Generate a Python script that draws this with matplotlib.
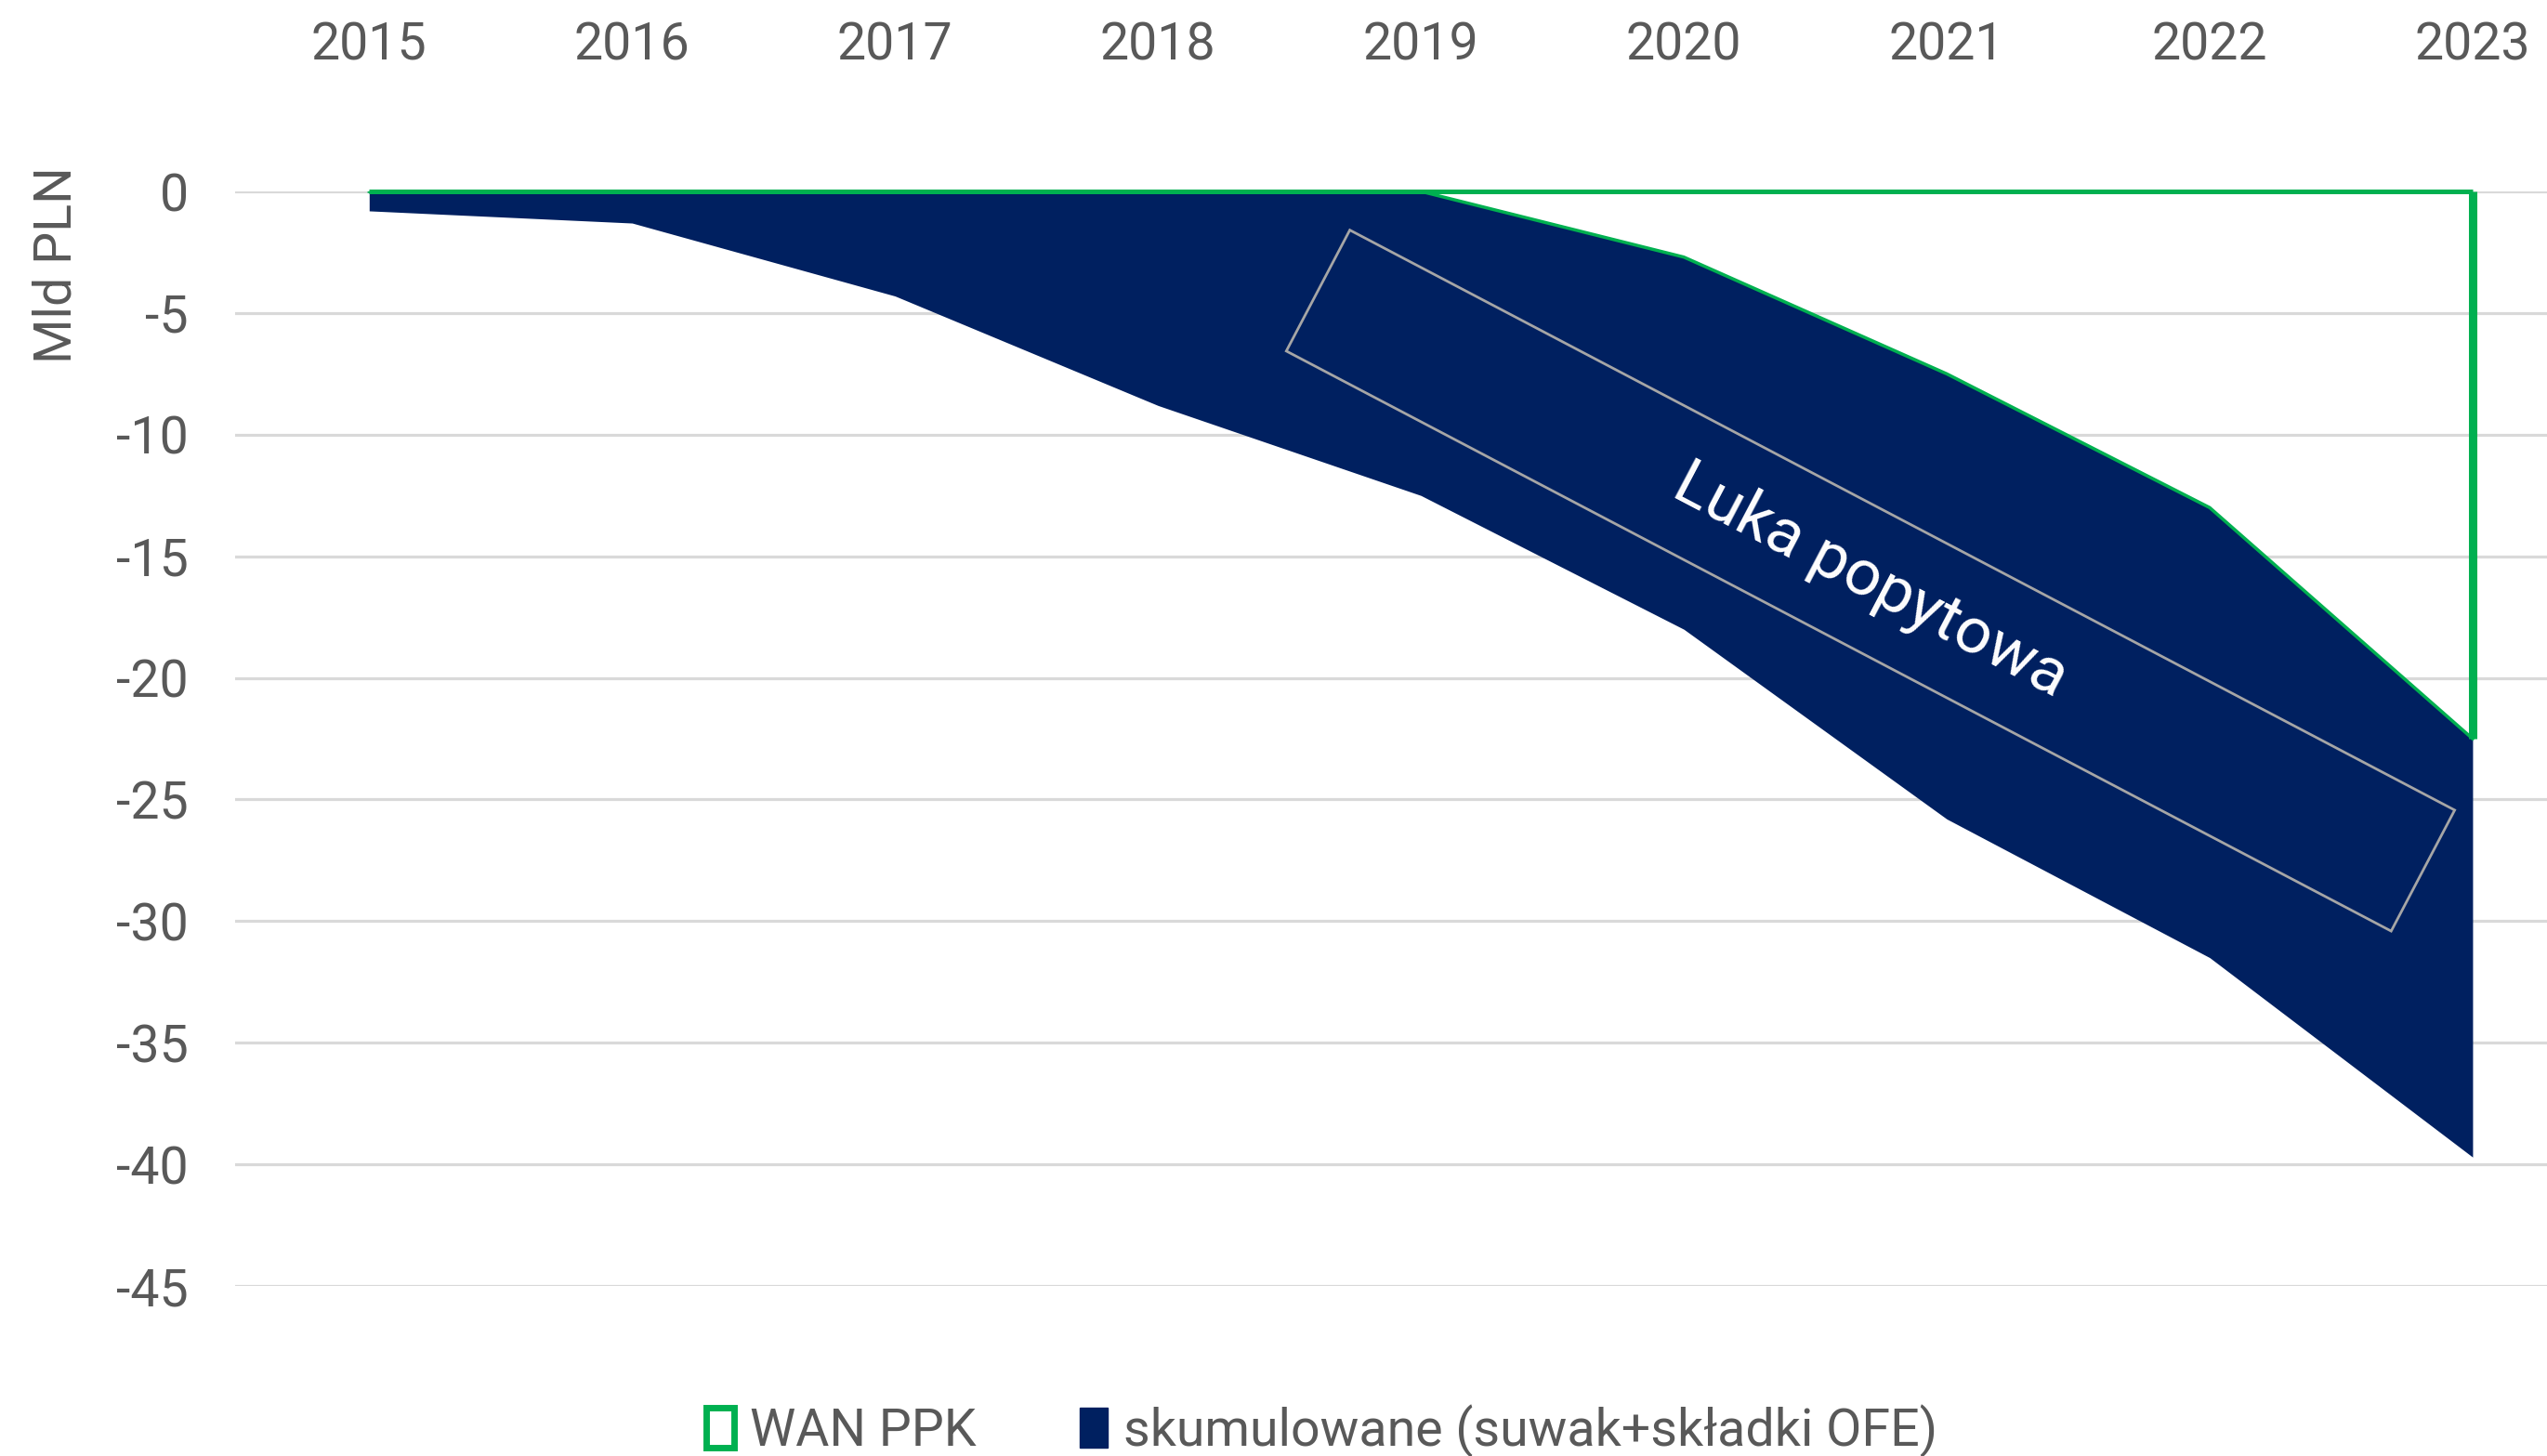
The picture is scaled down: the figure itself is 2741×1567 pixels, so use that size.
import matplotlib.pyplot as plt
from matplotlib.patches import Patch

# data (Mld PLN)
years = ['2015', '2016', '2017', '2018', '2019', '2020', '2021', '2022', '2023']
wan_ppk = [0, 0, 0, 0, 0, -2.7, -7.5, -13.0, -22.5]
skumulowane = [-0.8, -1.3, -4.3, -8.8, -12.5, -18.0, -25.8, -31.5, -39.7]
yticks = [0, -5, -10, -15, -20, -25, -30, -35, -40, -45]

green = '#00b050'
navy = '#002060'
grey = '#595959'

plt.rcParams['font.family'] = ['Roboto', 'DejaVu Sans']

fig = plt.figure(figsize=(27.41, 15.67), dpi=100)
ax = fig.add_axes([253 / 2741, 1 - 1384 / 1567, 1 - 253 / 2741, (1384 - 206) / 1567])

x = list(range(len(years)))

# area between WAN PPK and cumulative line
ax.fill_between(x, wan_ppk, skumulowane, color=navy, lw=0, zorder=2)

# WAN PPK: outline only
ax.plot(x, [0] * len(x), color=green, lw=3.6, zorder=3, clip_on=False,
        solid_capstyle='butt')
ax.plot(x, wan_ppk, color=green, lw=2.5, zorder=3)
ax.vlines(x[-1], wan_ppk[-1], 0, color=green, lw=6.5, zorder=3)

ax.set_xlim(-0.51, 8.283)
ax.set_ylim(-45, 0)
ax.set_xticks(x)
ax.set_xticklabels(years)
ax.set_yticks(yticks)
ax.set_yticklabels([str(t) for t in yticks])
ax.xaxis.tick_top()
ax.tick_params(axis='x', length=0, pad=94, labelsize=40, colors=grey)
ax.tick_params(axis='y', length=0, pad=36, labelsize=40, colors=grey)
ax.yaxis.grid(True, color='#d9d9d9', lw=2.3, zorder=0)
ax.set_axisbelow(True)
for s in ax.spines.values():
    s.set_visible(False)

fig.text(61 / 2741, 1 - 285 / 1567, 'Mld PLN', rotation=90, ha='center', va='center',
         fontsize=40, color=grey)

# annotation box
pad_txt = ' ' * 23
ax.text(5.71, -16.0, pad_txt + 'Luka popytowa' + pad_txt, rotation=-27.7,
        rotation_mode='anchor', ha='center', va='center', color='white', fontsize=50,
        zorder=5,
        bbox=dict(boxstyle='square,pad=0.58', fc='none', ec='#a6a6a6', lw=2))

handles = [Patch(facecolor='white', edgecolor=green, lw=5),
           Patch(facecolor=navy, edgecolor=navy)]
fig.legend(handles, ['WAN PPK', 'skumulowane (suwak+składki OFE)'],
           loc='lower center', bbox_to_anchor=(0.519, -0.033), ncol=2, frameon=False,
           fontsize=40, labelcolor=grey, handlelength=0.55, handleheight=0.8,
           handletextpad=0.3, columnspacing=2.0)

fig.savefig('out.png', dpi=100)
